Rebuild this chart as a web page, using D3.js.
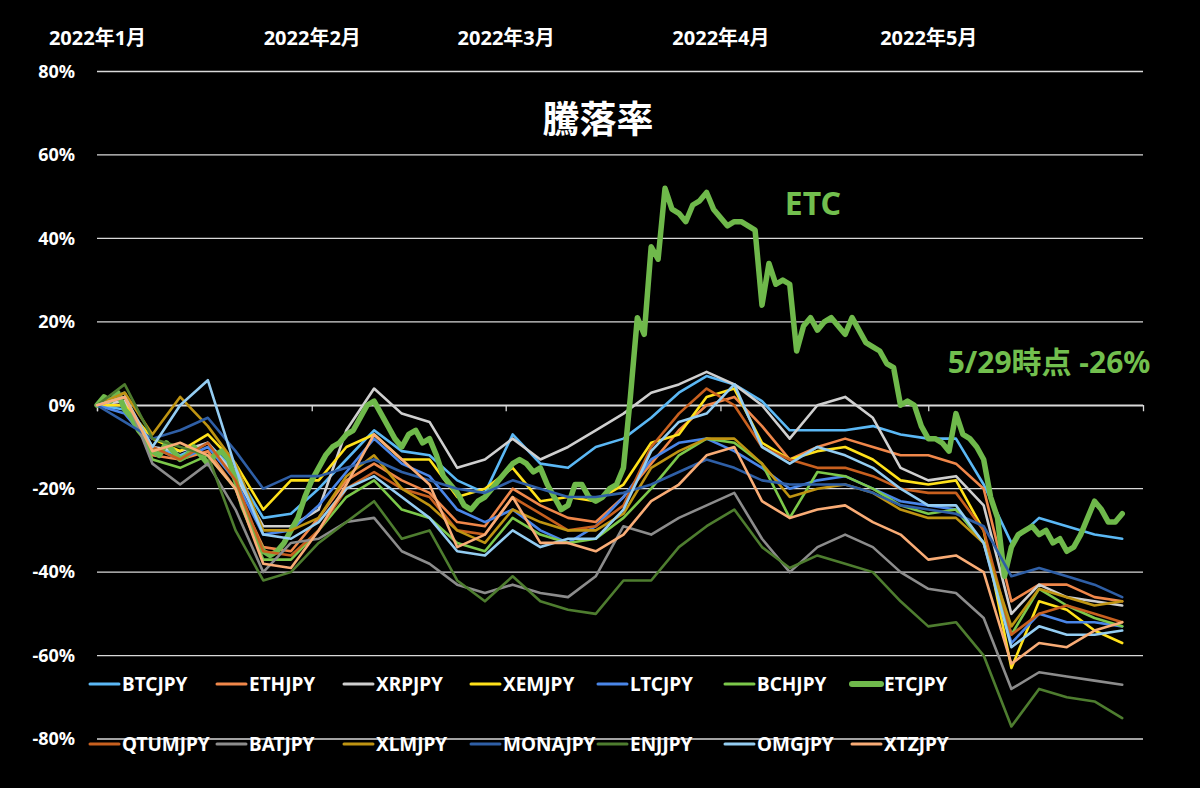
<!DOCTYPE html>
<html>
<head>
<meta charset="utf-8">
<script src="https://cdn.jsdelivr.net/npm/d3@7"></script>
<style>
  body { margin: 0; background: #000; }
  svg text { font-family: "Noto Sans", "Noto Sans CJK JP", sans-serif; }
</style>
</head>
<body>
<div id="chart"></div>
<script>
// month ticks shown on top, y ticks on the left
const monthTicks = ["2022-01-01", "2022-02-01", "2022-03-01", "2022-04-01", "2022-05-01"];
const yTicks = [80, 60, 40, 20, 0, -20, -40, -60, -80];

// % change since 2022/1/1, one value every 4 days (1/1, 1/5, ... 5/29)
const btc  = [0, -1, -10, -12, -9, -16, -27, -26, -20, -13, -6, -11, -12, -18, -21, -7, -14, -15, -10, -8, -3, 3, 7, 5, 1, -6, -6, -6, -5, -7, -8, -8, -19, -33, -27, -29, -31, -32];
const eth  = [0, 1, -12, -13, -11, -20, -34, -35, -27, -18, -14, -18, -21, -28, -29, -20, -24, -27, -28, -22, -14, -6, 0, 2, -5, -13, -10, -8, -10, -12, -12, -14, -20, -47, -43, -43, -46, -47];
const xrp  = [0, 1, -10, -11, -9, -17, -29, -29, -25, -6, 4, -2, -4, -15, -13, -8, -13, -10, -6, -2, 3, 5, 8, 5, 0, -8, 0, 2, -3, -15, -18, -17, -24, -50, -43, -46, -47, -48];
const xem  = [0, 0, -8, -11, -7, -14, -25, -18, -18, -10, -7, -13, -13, -22, -20, -15, -23, -22, -23, -19, -9, -7, 2, 4, -9, -13, -11, -10, -13, -18, -19, -18, -30, -63, -47, -49, -54, -57];
const ltc  = [0, -2, -10, -13, -10, -18, -31, -30, -24, -16, -8, -14, -17, -25, -28, -25, -30, -33, -29, -22, -13, -9, -8, -11, -15, -20, -18, -17, -20, -23, -24, -25, -33, -57, -50, -52, -52, -53];
const bch  = [0, 3, -13, -15, -12, -20, -37, -37, -30, -22, -18, -25, -27, -33, -35, -27, -31, -33, -32, -27, -20, -12, -8, -9, -14, -27, -16, -17, -20, -24, -26, -25, -33, -55, -44, -48, -51, -53];
const qtum = [0, 2, -10, -13, -9, -18, -35, -36, -30, -20, -16, -20, -22, -30, -31, -22, -26, -30, -29, -24, -10, -2, 4, 0, -10, -13, -15, -15, -17, -20, -21, -21, -30, -55, -50, -48, -50, -52];
const bat  = [0, 3, -14, -19, -14, -25, -40, -33, -32, -28, -27, -35, -38, -43, -45, -43, -45, -46, -41, -29, -31, -27, -24, -21, -32, -40, -34, -31, -34, -40, -44, -45, -51, -68, -64, -65, -66, -67];
const xlm  = [0, 3, -7, 2, -5, -14, -30, -30, -27, -17, -12, -20, -24, -30, -33, -25, -28, -30, -30, -26, -15, -11, -8, -8, -14, -22, -20, -19, -21, -25, -27, -27, -33, -53, -44, -46, -48, -47];
const mona = [0, -4, -8, -6, -3, -11, -20, -17, -17, -15, -13, -16, -18, -20, -21, -18, -20, -22, -22, -21, -19, -16, -13, -15, -18, -19, -19, -19, -21, -24, -25, -26, -29, -41, -39, -41, -43, -46];
const enj  = [0, 5, -8, -10, -12, -30, -42, -40, -33, -28, -23, -32, -30, -42, -47, -41, -47, -49, -50, -42, -42, -34, -29, -25, -34, -39, -36, -38, -40, -47, -53, -52, -60, -77, -68, -70, -71, -75];
const omg  = [0, 2, -10, 0, 6, -15, -31, -32, -28, -20, -17, -22, -27, -35, -36, -30, -34, -32, -32, -25, -11, -4, -2, 5, -10, -14, -10, -12, -15, -20, -24, -24, -33, -58, -53, -55, -55, -54];
const xtz  = [0, 2, -11, -9, -12, -20, -38, -39, -30, -19, -7, -13, -19, -34, -31, -22, -33, -33, -35, -31, -23, -19, -12, -10, -23, -27, -25, -24, -28, -31, -37, -36, -40, -62, -57, -58, -54, -52];

// ETC daily, 1/1 .. 5/29
const etc = [0, 2, 1, 3, -1, -3, -6, -8, -11, -12,
  -9, -11, -13, -12, -10, -12, -14, -12, -11, -13,
  -18, -24, -28, -32, -35, -36, -35, -33, -30, -27,
  -22, -18, -15, -12, -10, -9, -7, -6, -3, 0,
  1, -2, -5, -8, -10, -7, -6, -9, -8, -12,
  -17, -19, -21, -24, -25, -23, -22, -20, -18, -16,
  -14, -13, -14, -16, -15, -19, -22, -25, -24, -19,
  -19, -22, -23, -22, -20, -19, -15, 2, 21, 17,
  38, 35, 52, 47, 46, 44, 48, 49, 51, 47,
  45, 43, 44, 44, 43, 42, 24, 34, 29, 30,
  29, 13, 19, 21, 18, 20, 21, 19, 17, 21,
  18, 15, 14, 13, 10, 9, 0, 1, 0, -5,
  -8, -8, -9, -11, -2, -7, -8, -10, -13, -22,
  -27, -41, -34, -31, -30, -29, -31, -30, -33, -32,
  -35, -34, -31, -27, -23, -25, -28, -28, -26];

const names  = ["BTCJPY", "ETHJPY", "XRPJPY", "XEMJPY", "LTCJPY", "BCHJPY", "ETCJPY",
                "QTUMJPY", "BATJPY", "XLMJPY", "MONAJPY", "ENJJPY", "OMGJPY", "XTZJPY"];
const values = [btc, eth, xrp, xem, ltc, bch, etc, qtum, bat, xlm, mona, enj, omg, xtz];
const colors = ["#5bb8f5", "#f0874a", "#cfcfcf", "#ffe11a", "#4a86e8", "#7cc84a", "#6fb94b",
                "#c8601f", "#8c8c8c", "#bf9412", "#2f5fa6", "#4e7d2f", "#94cdf2", "#f9ac76"];

const w = 1200, h = 788;
const start = new Date(2022, 0, 1);

const svg = d3.select("#chart").append("svg")
  .attr("width", w)
  .attr("height", h)
  .style("background", "#000");

const x = d3.scaleTime()
  .domain([start, new Date(2022, 5, 1)])
  .range([97, 1143]);

const y = d3.scaleLinear()
  .domain([-80, 80])
  .range([739, 71.5]);

// horizontal grid
svg.append("g").selectAll("line")
  .data(yTicks)
  .enter().append("line")
  .attr("x1", 97).attr("x2", 1143)
  .attr("y1", d => y(d)).attr("y2", d => y(d))
  .attr("stroke", "#d9d9d9")
  .attr("stroke-width", 1.3);

// y labels
svg.append("g").selectAll("text")
  .data(yTicks)
  .enter().append("text")
  .attr("x", 75)
  .attr("y", d => y(d))
  .attr("dy", "0.35em")
  .attr("text-anchor", "end")
  .attr("fill", "#fff")
  .style("font-size", "18px")
  .style("font-weight", "bold")
  .text(d => d + "%");

// x axis on the 0% line, ticks only
const monthDates = monthTicks.map(d3.timeParse("%Y-%m-%d"));
const xAxis = svg.append("g")
  .attr("transform", "translate(0," + y(0) + ")")
  .call(d3.axisBottom(x).tickValues(monthDates).tickSize(6).tickSizeOuter(6).tickFormat(""));
xAxis.selectAll("path, line").attr("stroke", "#d9d9d9").attr("stroke-width", 1.3);

// month labels on top
const monthAxis = svg.append("g")
  .attr("transform", "translate(0,48)")
  .call(d3.axisTop(x).tickValues(monthDates).tickSize(0)
    .tickFormat(d => d.getFullYear() + "年" + (d.getMonth() + 1) + "月"));
monthAxis.select(".domain").remove();
monthAxis.selectAll("text")
  .attr("fill", "#fff")
  .style("font-size", "20px")
  .style("font-weight", "bold");

// lines
const line = d3.line()
  .x(d => x(d.date))
  .y(d => y(d.v))
  .curve(d3.curveLinear);

values.forEach((vals, i) => {
  const step = vals.length > 40 ? 1 : 4;
  const pts = vals.map((v, k) => ({ date: d3.timeDay.offset(start, k * step), v: v }));
  svg.append("path")
    .datum(pts)
    .attr("d", line)
    .attr("fill", "none")
    .attr("stroke", colors[i])
    .attr("stroke-width", names[i] == "ETCJPY" ? 5.5 : 2.6)
    .attr("stroke-linejoin", "round")
    .attr("stroke-linecap", "round");
});

// legend, two rows of seven
const legend = svg.append("g").selectAll("g")
  .data(names)
  .enter().append("g")
  .attr("transform", (d, i) => "translate(" + (90 + (i % 7) * 127) + "," + (i < 7 ? 684 : 744) + ")");

legend.append("line")
  .attr("x1", 0).attr("x2", 29)
  .attr("stroke", (d, i) => colors[i])
  .attr("stroke-width", d => d == "ETCJPY" ? 6 : 3)
  .attr("stroke-linecap", "round");

legend.append("text")
  .attr("x", 32)
  .attr("dy", "0.35em")
  .attr("fill", "#fff")
  .style("font-size", "19px")
  .style("font-weight", "bold")
  .text(d => d);

// title and notes
svg.append("text")
  .attr("x", 598).attr("y", 120)
  .attr("dy", "0.35em")
  .attr("text-anchor", "middle")
  .attr("fill", "#fff")
  .style("font-size", "37px")
  .style("font-weight", "bold")
  .text("騰落率");

svg.append("text")
  .attr("x", 813).attr("y", 204)
  .attr("dy", "0.35em")
  .attr("text-anchor", "middle")
  .attr("fill", "#72bf4e")
  .style("font-size", "32px")
  .style("font-weight", "bold")
  .text("ETC");

svg.append("text")
  .attr("x", 1049).attr("y", 362)
  .attr("dy", "0.35em")
  .attr("text-anchor", "middle")
  .attr("fill", "#72bf4e")
  .style("font-size", "30px")
  .style("font-weight", "bold")
  .text("5/29時点 -26%");
</script>
</body>
</html>
